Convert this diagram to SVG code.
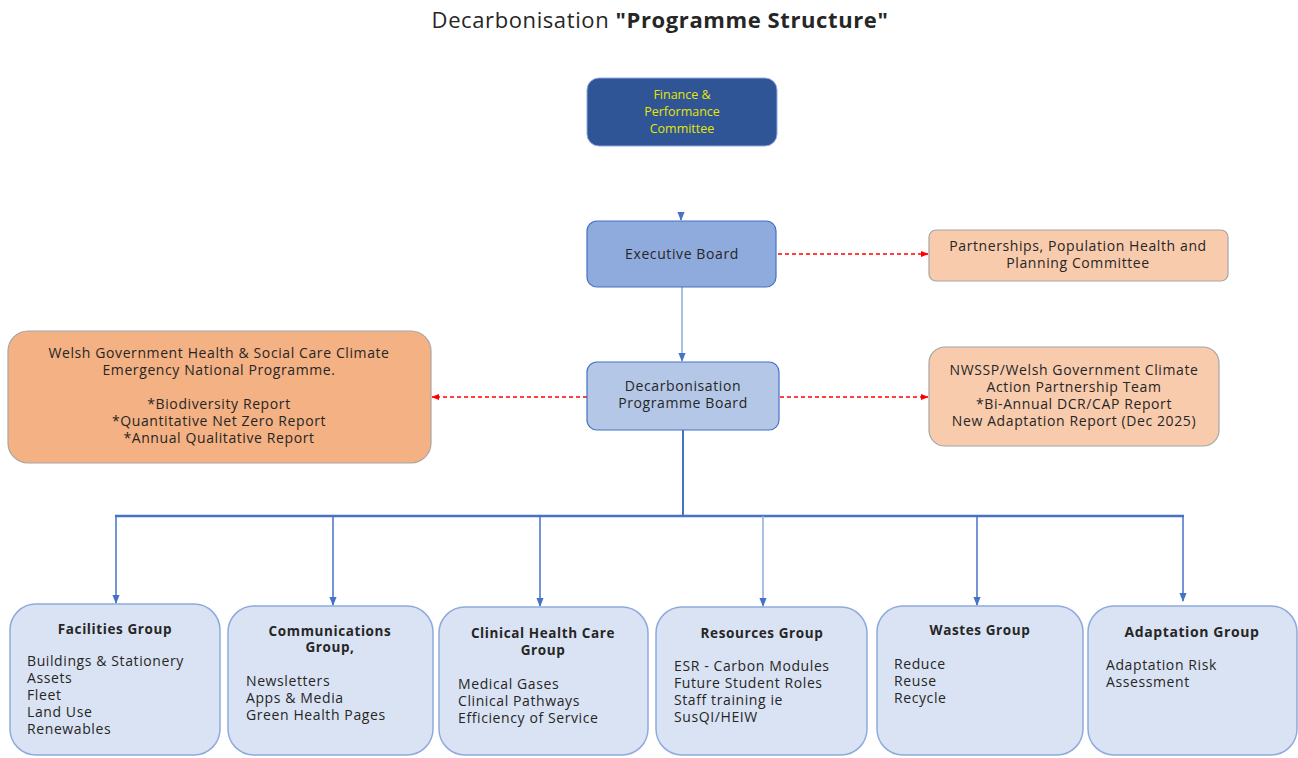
<svg xmlns="http://www.w3.org/2000/svg" width="1298" height="758" viewBox="0 0 1298 758">
<defs>
<style>
text{font-family:"Open Sans","Liberation Sans",sans-serif;font-size:14px;letter-spacing:0.6px;fill:#262626}
.c{text-anchor:middle}
.b{font-weight:bold;font-size:13.5px}
.fin{font-size:12.5px;letter-spacing:0;fill:#E6E600}
.grp{fill:#DAE3F3;stroke:#8FAADC;stroke-width:1.5}
.peach{fill:#F8CBAD;stroke:#A6A6A6;stroke-width:1.2}
.conn{stroke:#4472C4;stroke-width:1.5;fill:none}
.red{stroke:#FF0000;stroke-width:1.3;stroke-dasharray:4 3;fill:none}
</style>
<marker id="ab" viewBox="0 0 10 10" refX="9" refY="5" markerWidth="6" markerHeight="6" orient="auto"><path d="M0,1 L10,5 L0,9 z" fill="#4472C4"/></marker>
<marker id="ar" viewBox="0 0 10 10" refX="9" refY="5" markerWidth="6" markerHeight="6" orient="auto"><path d="M0,1 L10,5 L0,9 z" fill="#FF0000"/></marker>
</defs>
<rect width="1298" height="758" fill="#FFFFFF"/>
<text x="660" y="28" class="c" style="font-size:22px">Decarbonisation <tspan style="font-weight:bold">"Programme Structure"</tspan></text>

<g id="connectors">
<line class="conn" x1="681" y1="212" x2="681" y2="220" marker-end="url(#ab)"/>
<line class="conn" x1="682" y1="287" x2="682" y2="361" marker-end="url(#ab)" style="stroke:#8FAADC"/>
<line class="red" x1="778" y1="254" x2="928" y2="254" marker-end="url(#ar)"/>
<line class="red" x1="587" y1="397" x2="432" y2="397" marker-end="url(#ar)"/>
<line class="red" x1="780" y1="397" x2="928" y2="397" marker-end="url(#ar)"/>
<line class="conn" x1="683" y1="430" x2="683" y2="516" style="stroke-width:2"/>
<line class="conn" x1="115" y1="516" x2="1184" y2="516" style="stroke-width:2.5"/>
<line class="conn" x1="116" y1="516" x2="116" y2="603" marker-end="url(#ab)"/>
<line class="conn" x1="333" y1="516" x2="333" y2="605" marker-end="url(#ab)"/>
<line class="conn" x1="540" y1="516" x2="540" y2="606" marker-end="url(#ab)"/>
<line class="conn" x1="763" y1="516" x2="763" y2="606" marker-end="url(#ab)" style="stroke:#8FAADC"/>
<line class="conn" x1="977" y1="516" x2="977" y2="605" marker-end="url(#ab)"/>
<line class="conn" x1="1183" y1="516" x2="1183" y2="601" marker-end="url(#ab)"/>
</g>

<g id="finance">
<rect x="587" y="78" width="190" height="68" rx="12" fill="#2F5597" stroke="#8FAADC" stroke-width="1"/>
<text x="682" y="99" class="c fin">Finance &amp;</text>
<text x="682" y="116" class="c fin">Performance</text>
<text x="682" y="133" class="c fin">Committee</text>
</g>

<g id="executive">
<rect x="587" y="221" width="189" height="66" rx="10" fill="#8FAADC" stroke="#4472C4" stroke-width="1.2"/>
<text x="682" y="259" class="c">Executive Board</text>
</g>

<g id="partnerships">
<rect class="peach" x="929" y="230" width="299" height="51" rx="7"/>
<text x="1078" y="251" class="c">Partnerships, Population Health and</text>
<text x="1078" y="268" class="c">Planning Committee</text>
</g>

<g id="decarb">
<rect x="587" y="362" width="192" height="68" rx="10" fill="#B4C7E7" stroke="#4472C4" stroke-width="1.2"/>
<text x="683" y="391" class="c">Decarbonisation</text>
<text x="683" y="408" class="c">Programme Board</text>
</g>

<g id="welsh">
<rect x="8" y="331" width="423" height="132" rx="20" fill="#F4B183" stroke="#A6A6A6" stroke-width="1.2"/>
<text x="219" y="358" class="c">Welsh Government Health &amp; Social Care Climate</text>
<text x="219" y="375" class="c">Emergency National Programme.</text>
<text x="219" y="409" class="c">*Biodiversity Report</text>
<text x="219" y="426" class="c">*Quantitative Net Zero Report</text>
<text x="219" y="443" class="c">*Annual Qualitative Report</text>
</g>

<g id="nwssp">
<rect class="peach" x="929" y="347" width="290" height="99" rx="16"/>
<text x="1074" y="375" class="c">NWSSP/Welsh Government Climate</text>
<text x="1074" y="392" class="c">Action Partnership Team</text>
<text x="1074" y="409" class="c">*Bi-Annual DCR/CAP Report</text>
<text x="1074" y="426" class="c">New Adaptation Report (Dec 2025)</text>
</g>

<g id="facilities">
<rect class="grp" x="10" y="604" width="210" height="151" rx="26"/>
<text x="115" y="634" class="c b">Facilities Group</text>
<text x="27" y="666">Buildings &amp; Stationery</text>
<text x="27" y="683">Assets</text>
<text x="27" y="700">Fleet</text>
<text x="27" y="717">Land Use</text>
<text x="27" y="734">Renewables</text>
</g>

<g id="communications">
<rect class="grp" x="228" y="606" width="205" height="149" rx="26"/>
<text x="330" y="636" class="c b">Communications</text>
<text x="330" y="652" class="c b">Group,</text>
<text x="246" y="686">Newsletters</text>
<text x="246" y="703">Apps &amp; Media</text>
<text x="246" y="720">Green Health Pages</text>
</g>

<g id="clinical">
<rect class="grp" x="439" y="607" width="209" height="148" rx="26"/>
<text x="543" y="638" class="c b">Clinical Health Care</text>
<text x="543" y="655" class="c b">Group</text>
<text x="458" y="689">Medical Gases</text>
<text x="458" y="706">Clinical Pathways</text>
<text x="458" y="723">Efficiency of Service</text>
</g>

<g id="resources">
<rect class="grp" x="656" y="607" width="211" height="148" rx="26"/>
<text x="762" y="638" class="c b">Resources Group</text>
<text x="674" y="671">ESR - Carbon Modules</text>
<text x="674" y="688">Future Student Roles</text>
<text x="674" y="705">Staff training ie</text>
<text x="674" y="722">SusQI/HEIW</text>
</g>

<g id="wastes">
<rect class="grp" x="877" y="606" width="206" height="149" rx="26"/>
<text x="980" y="635" class="c b">Wastes Group</text>
<text x="894" y="669">Reduce</text>
<text x="894" y="686">Reuse</text>
<text x="894" y="703">Recycle</text>
</g>

<g id="adaptation">
<rect class="grp" x="1088" y="606" width="209" height="149" rx="26"/>
<text x="1192" y="637" class="c b" style="font-size:14px">Adaptation Group</text>
<text x="1106" y="670">Adaptation Risk</text>
<text x="1106" y="687">Assessment</text>
</g>
</svg>
